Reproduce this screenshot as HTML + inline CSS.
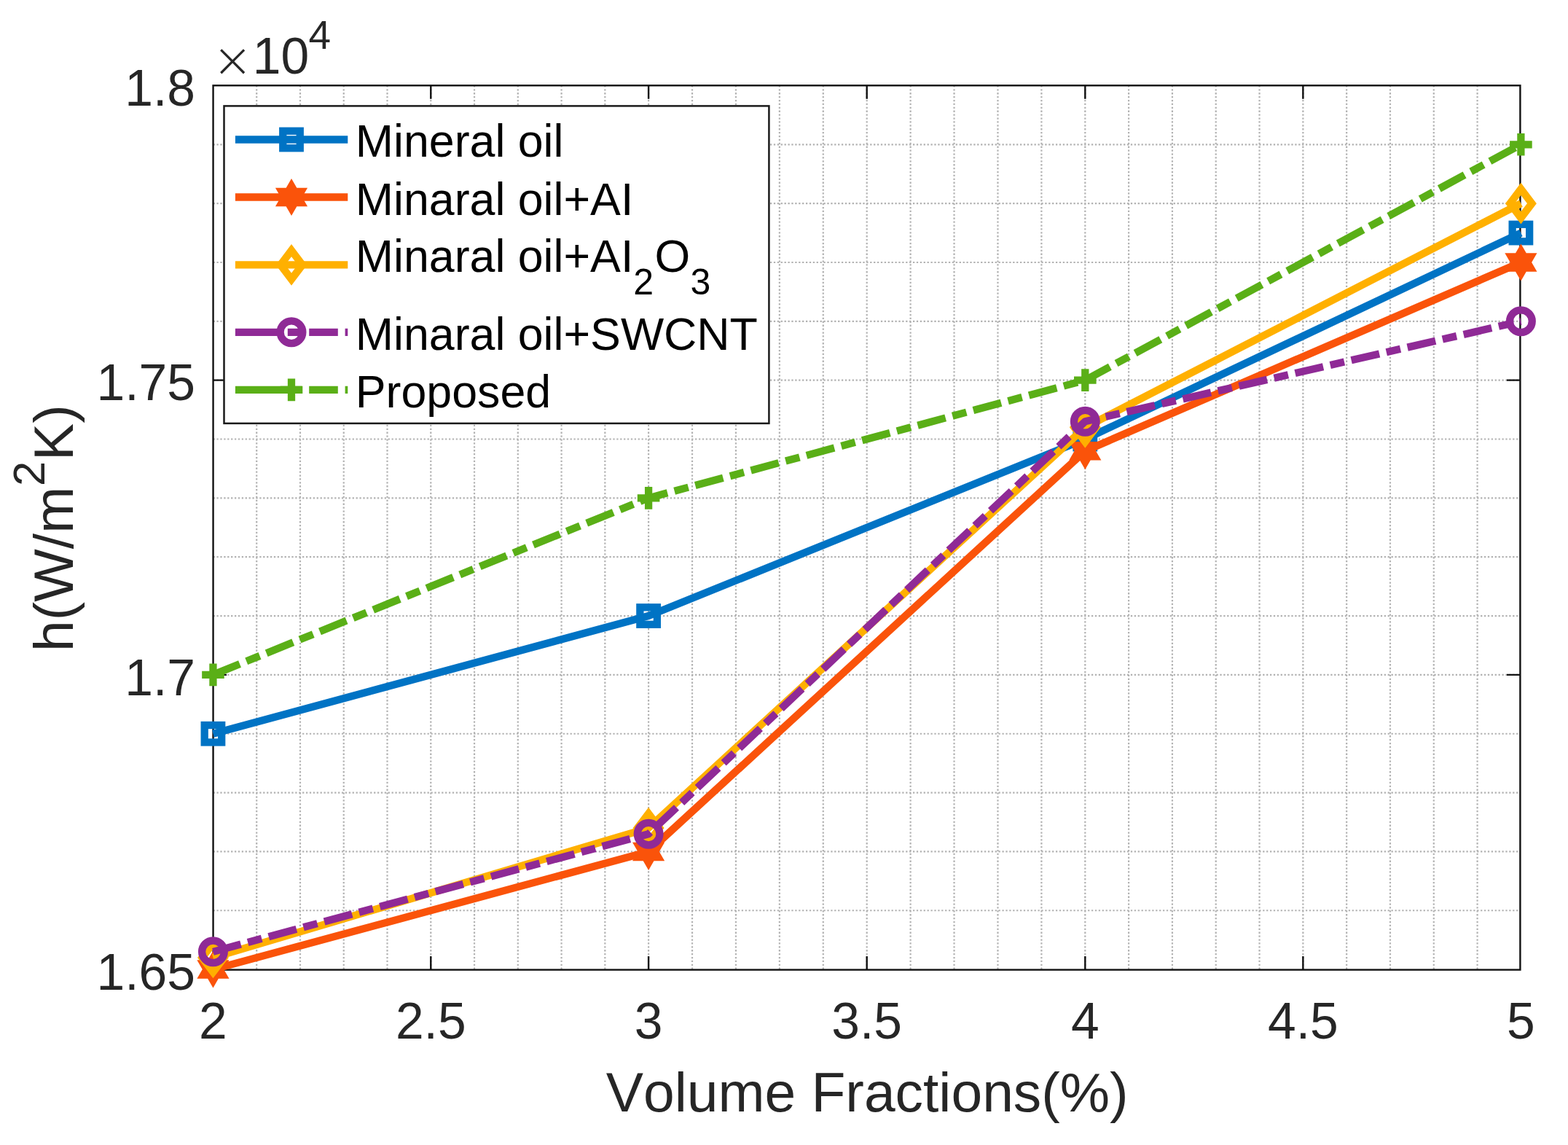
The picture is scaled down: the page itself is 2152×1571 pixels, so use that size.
<!DOCTYPE html>
<html lang="en"><head><meta charset="utf-8"><title>h vs Volume Fractions</title>
<style>html,body{margin:0;padding:0;background:#fff;}body{width:2152px;height:1571px;overflow:hidden;}svg{display:block;}text{font-family:'Liberation Sans', sans-serif;font-kerning:none;}</style>
</head><body>
<svg width="2152" height="1571" viewBox="0 0 2152 1571" role="img" aria-label="h versus volume fraction line chart">
<rect width="2152" height="1571" fill="#fff"/>
<path d="M352.22 117.3V1330.6M411.98 117.3V1330.6M471.74 117.3V1330.6M531.51 117.3V1330.6M591.28 117.3V1330.6M651.04 117.3V1330.6M710.81 117.3V1330.6M770.57 117.3V1330.6M830.34 117.3V1330.6M890.1 117.3V1330.6M950.02 117.3V1330.6M1009.94 117.3V1330.6M1069.86 117.3V1330.6M1129.78 117.3V1330.6M1189.7 117.3V1330.6M1249.62 117.3V1330.6M1309.54 117.3V1330.6M1369.46 117.3V1330.6M1429.38 117.3V1330.6M1489.3 117.3V1330.6M1549.11 117.3V1330.6M1608.92 117.3V1330.6M1668.73 117.3V1330.6M1728.54 117.3V1330.6M1788.35 117.3V1330.6M1848.16 117.3V1330.6M1907.97 117.3V1330.6M1967.78 117.3V1330.6M2027.59 117.3V1330.6M292.55 1249.26H2086.4M292.55 1168.41H2086.4M292.55 1087.57H2086.4M292.55 1006.73H2086.4M292.55 925.88H2086.4M292.55 845.04H2086.4M292.55 764.2H2086.4M292.55 683.35H2086.4M292.55 602.51H2086.4M292.55 521.67H2086.4M292.55 440.82H2086.4M292.55 359.98H2086.4M292.55 279.14H2086.4M292.55 198.29H2086.4" fill="none" stroke="#b2b2b2" stroke-width="2.2" stroke-dasharray="2.3 2.6"/>
<path d="M591.28 1330.6v-18.5M591.28 117.3v18.5M890.1 1330.6v-18.5M890.1 117.3v18.5M1189.7 1330.6v-18.5M1189.7 117.3v18.5M1489.3 1330.6v-18.5M1489.3 117.3v18.5M1788.35 1330.6v-18.5M1788.35 117.3v18.5M292.55 925.88h18.5M2086.4 925.88h-18.5M292.55 521.67h18.5M2086.4 521.67h-18.5" fill="none" stroke="#111111" stroke-width="2.4"/>
<rect x="292.55" y="117.3" width="1793.85" height="1213.3" fill="none" stroke="#111111" stroke-width="2.4"/>
<g fill="#262626" font-size="69.6">
<text x="292.45" y="1425.2" text-anchor="middle">2</text>
<text x="591.28" y="1425.2" text-anchor="middle">2.5</text>
<text x="890.1" y="1425.2" text-anchor="middle">3</text>
<text x="1189.7" y="1425.2" text-anchor="middle">3.5</text>
<text x="1489.3" y="1425.2" text-anchor="middle">4</text>
<text x="1788.35" y="1425.2" text-anchor="middle">4.5</text>
<text x="2087.4" y="1425.2" text-anchor="middle">5</text>
<text x="268" y="1357.8" text-anchor="end">1.65</text>
<text x="268" y="953.58" text-anchor="end">1.7</text>
<text x="268" y="549.37" text-anchor="end">1.75</text>
<text x="268" y="145.15" text-anchor="end">1.8</text>
<text x="291.4" y="105.3" style="font-family:'DejaVu Sans','Liberation Sans',sans-serif;font-weight:200;font-size:66px">×</text>
<text x="346.8" y="101.4">10</text>
<text x="423.5" y="67" font-size="55">4</text>
</g>
<text x="1190.2" y="1524.6" text-anchor="middle" font-size="76.8" fill="#262626">Volume Fractions(%)</text>
<text transform="translate(99.7 724.6) rotate(-90)" text-anchor="middle" font-size="76.8" fill="#262626">h(W/m<tspan font-size="61.5" dx="0.8" dy="-38.5">2</tspan><tspan dy="38.5" dx="0.8">K)</tspan></text>
<polyline points="292.45,1006.73 890.1,845.04 1489.3,602.51 2087.4,319.56" fill="none" stroke="#0073C4" stroke-width="10.3" stroke-linejoin="round"/>
<rect x="280.7" y="994.98" width="23.5" height="23.5" fill="none" stroke="#0073C4" stroke-width="10.3" stroke-linejoin="miter"/>
<rect x="878.35" y="833.29" width="23.5" height="23.5" fill="none" stroke="#0073C4" stroke-width="10.3" stroke-linejoin="miter"/>
<rect x="1477.55" y="590.76" width="23.5" height="23.5" fill="none" stroke="#0073C4" stroke-width="10.3" stroke-linejoin="miter"/>
<rect x="2075.65" y="307.81" width="23.5" height="23.5" fill="none" stroke="#0073C4" stroke-width="10.3" stroke-linejoin="miter"/>
<polyline points="292.45,1330.1 890.1,1168.41 1489.3,618.68 2087.4,359.98" fill="none" stroke="#FA530A" stroke-width="10.3" stroke-linejoin="round"/>
<polygon points="292.45,1304.6 285.09,1317.35 270.37,1317.35 277.73,1330.1 270.37,1342.85 285.09,1342.85 292.45,1355.6 299.81,1342.85 314.53,1342.85 307.17,1330.1 314.53,1317.35 299.81,1317.35" fill="#FA530A"/>
<polygon points="890.1,1142.91 882.74,1155.66 868.02,1155.66 875.38,1168.41 868.02,1181.16 882.74,1181.16 890.1,1193.91 897.46,1181.16 912.18,1181.16 904.82,1168.41 912.18,1155.66 897.46,1155.66" fill="#FA530A"/>
<polygon points="1489.3,593.18 1481.94,605.93 1467.22,605.93 1474.58,618.68 1467.22,631.43 1481.94,631.43 1489.3,644.18 1496.66,631.43 1511.38,631.43 1504.02,618.68 1511.38,605.93 1496.66,605.93" fill="#FA530A"/>
<polygon points="2087.4,334.48 2080.04,347.23 2065.32,347.23 2072.68,359.98 2065.32,372.73 2080.04,372.73 2087.4,385.48 2094.76,372.73 2109.48,372.73 2102.12,359.98 2109.48,347.23 2094.76,347.23" fill="#FA530A"/>
<polyline points="292.45,1313.93 890.1,1136.08 1489.3,586.34 2087.4,279.14" fill="none" stroke="#FFB000" stroke-width="10.3" stroke-linejoin="round"/>
<polygon points="292.45,1294.13 307.45,1313.93 292.45,1333.73 277.45,1313.93" fill="none" stroke="#FFB000" stroke-width="10.3" stroke-linejoin="miter" stroke-miterlimit="10"/>
<polygon points="890.1,1116.28 905.1,1136.08 890.1,1155.88 875.1,1136.08" fill="none" stroke="#FFB000" stroke-width="10.3" stroke-linejoin="miter" stroke-miterlimit="10"/>
<polygon points="1489.3,566.54 1504.3,586.34 1489.3,606.14 1474.3,586.34" fill="none" stroke="#FFB000" stroke-width="10.3" stroke-linejoin="miter" stroke-miterlimit="10"/>
<polygon points="2087.4,259.34 2102.4,279.14 2087.4,298.94 2072.4,279.14" fill="none" stroke="#FFB000" stroke-width="10.3" stroke-linejoin="miter" stroke-miterlimit="10"/>
<polyline points="292.45,1305.85 890.1,1144.16 1489.3,578.26 2087.4,440.82" fill="none" stroke="#8F2A96" stroke-width="10.3" stroke-linejoin="round" stroke-dasharray="39.5 9.9 19.75 9.9"/>
<circle cx="292.45" cy="1305.85" r="15.35" fill="none" stroke="#8F2A96" stroke-width="10.3"/>
<circle cx="890.1" cy="1144.16" r="15.35" fill="none" stroke="#8F2A96" stroke-width="10.3"/>
<circle cx="1489.3" cy="578.26" r="15.35" fill="none" stroke="#8F2A96" stroke-width="10.3"/>
<circle cx="2087.4" cy="440.82" r="15.35" fill="none" stroke="#8F2A96" stroke-width="10.3"/>
<polyline points="292.45,925.88 890.1,683.35 1489.3,521.67 2087.4,198.29" fill="none" stroke="#5AAF17" stroke-width="10.3" stroke-linejoin="round" stroke-dasharray="39.5 9.9 19.75 9.9"/>
<path d="M277.15 925.88H307.75M292.45 910.58V941.18" fill="none" stroke="#5AAF17" stroke-width="10.3"/>
<path d="M874.8 683.35H905.4M890.1 668.05V698.65" fill="none" stroke="#5AAF17" stroke-width="10.3"/>
<path d="M1474 521.67H1504.6M1489.3 506.37V536.97" fill="none" stroke="#5AAF17" stroke-width="10.3"/>
<path d="M2072.1 198.29H2102.7M2087.4 182.99V213.59" fill="none" stroke="#5AAF17" stroke-width="10.3"/>
<rect x="307.5" y="145.4" width="747.9" height="435.5" fill="#fff" stroke="#1a1a1a" stroke-width="2.5"/>
<path d="M322.9 191.5H477.3" fill="none" stroke="#0073C4" stroke-width="10.3"/>
<rect x="388.25" y="179.75" width="23.5" height="23.5" fill="none" stroke="#0073C4" stroke-width="10.3" stroke-linejoin="miter"/>
<text x="487.8" y="215.2" font-size="62.7" fill="#000">Mineral oil</text>
<path d="M322.9 270.5H477.3" fill="none" stroke="#FA530A" stroke-width="10.3"/>
<polygon points="400,245 392.64,257.75 377.92,257.75 385.28,270.5 377.92,283.25 392.64,283.25 400,296 407.36,283.25 422.08,283.25 414.72,270.5 422.08,257.75 407.36,257.75" fill="#FA530A"/>
<text x="487.8" y="294.8" font-size="62.7" fill="#000">Minaral oil+AI</text>
<path d="M322.9 363.4H477.3" fill="none" stroke="#FFB000" stroke-width="10.3"/>
<polygon points="400,343.6 415,363.4 400,383.2 385,363.4" fill="none" stroke="#FFB000" stroke-width="10.3" stroke-linejoin="miter" stroke-miterlimit="10"/>
<text x="487.8" y="373.3" font-size="62.7" fill="#000">Minaral oil+AI<tspan font-size="50" dx="0" dy="30.6">2</tspan><tspan dx="1.3" dy="-30.6">O</tspan><tspan font-size="50" dx="0.3" dy="30.6">3</tspan></text>
<path d="M322.9 455.8H386.5M394.8 455.8H414.5M424.2 455.8H463.8M473.6 455.8H477.3" fill="none" stroke="#8F2A96" stroke-width="10.3"/>
<circle cx="400" cy="455.8" r="15.35" fill="none" stroke="#8F2A96" stroke-width="10.3"/>
<text x="487.8" y="480.1" font-size="62.7" fill="#000">Minaral oil+SWCNT</text>
<path d="M322.9 534.9H414.5M424.2 534.9H463.8M473.6 534.9H477.3" fill="none" stroke="#5AAF17" stroke-width="10.3"/>
<path d="M384.7 534.9H415.3M400 519.6V550.2" fill="none" stroke="#5AAF17" stroke-width="10.3"/>
<text x="487.8" y="559.3" font-size="62.7" fill="#000">Proposed</text>
</svg></body></html>
